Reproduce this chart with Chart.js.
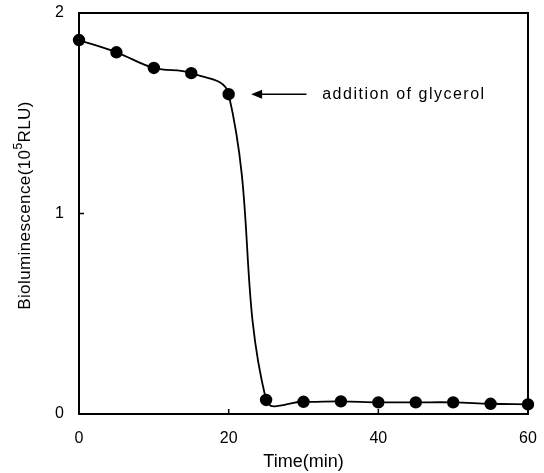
<!DOCTYPE html>
<html lang="en">
<head>
<meta charset="UTF-8">
<title>Bioluminescence vs time</title>
<script src="https://cdn.jsdelivr.net/npm/chart.js"></script>
<style>
  * { margin: 0; padding: 0; box-sizing: border-box; }
  body { background: #fff; width: 544px; height: 473px; overflow: hidden; }
</style>
</head>
<body>
<canvas id="chart" width="544" height="473"></canvas>
<script>
// Sampling times (min) and measured bioluminescence (x10^5 RLU)
const times = [0, 5, 10, 15, 20, 25, 30, 35, 40, 45, 50, 55, 60];
const lum = [1.865, 1.804, 1.726, 1.70, 1.595, 0.07, 0.061, 0.063, 0.058, 0.058, 0.058, 0.051, 0.048];
const xTicks = [0, 20, 40, 60];
const yTicks = [0, 1, 2];

// Glycerol was added at 20 min; the arrow points at that sample
const noteText = 'addition of glycerol';
const noteY = 1.595;
const arrowFrom = 30.4;
const arrowTo = 23.0;
const noteX = 32.5;

const FONT = "'Liberation Sans', Arial, sans-serif";

// Box around the plot, inward tick marks, y title and the annotation
const framePlugin = {
  id: 'frame',
  afterDatasetsDraw(chart) {
    const { ctx, chartArea: a, scales: { x, y } } = chart;
    ctx.save();
    ctx.strokeStyle = '#000';
    ctx.fillStyle = '#000';
    ctx.lineWidth = 2;
    ctx.strokeRect(a.left, a.top, a.right - a.left, a.bottom - a.top);

    ctx.lineWidth = 1.5;
    ctx.beginPath();
    xTicks.slice(1, -1).forEach(v => {
      const px = x.getPixelForValue(v);
      ctx.moveTo(px, a.bottom);
      ctx.lineTo(px, a.bottom - 5);
    });
    yTicks.slice(1, -1).forEach(v => {
      const py = y.getPixelForValue(v);
      ctx.moveTo(a.left, py);
      ctx.lineTo(a.left + 5, py);
    });
    ctx.stroke();

    // arrow
    const ay = y.getPixelForValue(noteY);
    const x1 = x.getPixelForValue(arrowFrom);
    const x2 = x.getPixelForValue(arrowTo);
    ctx.lineWidth = 1.5;
    ctx.beginPath();
    ctx.moveTo(x1, ay);
    ctx.lineTo(x2 + 8, ay);
    ctx.stroke();
    ctx.beginPath();
    ctx.moveTo(x2, ay);
    ctx.lineTo(x2 + 11, ay - 4.5);
    ctx.lineTo(x2 + 11, ay + 4.5);
    ctx.closePath();
    ctx.fill();

    ctx.letterSpacing = '1.5px';
    ctx.font = '16px ' + FONT;
    ctx.textBaseline = 'middle';
    ctx.textAlign = 'left';
    ctx.fillText(noteText, x.getPixelForValue(noteX), ay);

    // y axis title with a raised exponent
    const parts = [['Bioluminescence(10', 17, 0], ['5', 12, -6], ['RLU)', 17, 0]];
    ctx.letterSpacing = '0.4px';
    let total = 0;
    parts.forEach(([t, s]) => { ctx.font = s + 'px ' + FONT; total += ctx.measureText(t).width; });
    ctx.translate(25, (a.top + a.bottom) / 2 - 8);
    ctx.rotate(-Math.PI / 2);
    let cx = -total / 2;
    parts.forEach(([t, s, dy]) => {
      ctx.font = s + 'px ' + FONT;
      ctx.fillText(t, cx, dy);
      cx += ctx.measureText(t).width;
    });
    ctx.restore();
  }
};

new Chart(document.getElementById('chart'), {
  type: 'line',
  data: {
    datasets: [{
      data: times.map((t, i) => ({ x: t, y: lum[i] })),
      borderColor: '#000',
      backgroundColor: '#000',
      borderWidth: 1.8,
      pointRadius: 5.3,
      pointHoverRadius: 5.3,
      tension: 0.4,
      clip: false
    }]
  },
  options: {
    responsive: false,
    animation: false,
    events: [],
    layout: { padding: { top: 13, right: 16, left: 0, bottom: 0 } },
    plugins: { legend: { display: false }, tooltip: { enabled: false } },
    scales: {
      x: {
        type: 'linear',
        min: 0,
        max: 60,
        afterBuildTicks: s => { s.ticks = xTicks.map(v => ({ value: v })); },
        afterFit: s => { s.height = 59; s.paddingLeft = 0; s.paddingRight = 0; },
        grid: { display: false, drawTicks: false },
        border: { display: false },
        ticks: { color: '#000', padding: 15, font: { family: FONT, size: 16 }, maxRotation: 0 },
        title: {
          display: true,
          text: 'Time(min)',
          color: '#000',
          font: { family: FONT, size: 18 },
          padding: { top: 2, bottom: 0 }
        }
      },
      y: {
        min: 0,
        max: 2,
        afterBuildTicks: s => { s.ticks = yTicks.map(v => ({ value: v })); },
        afterFit: s => { s.width = 79; s.paddingTop = 0; s.paddingBottom = 0; },
        grid: { display: false, drawTicks: false },
        border: { display: false },
        ticks: { color: '#000', padding: 15, font: { family: FONT, size: 16 } }
      }
    }
  },
  plugins: [framePlugin]
});
</script>
</body>
</html>
